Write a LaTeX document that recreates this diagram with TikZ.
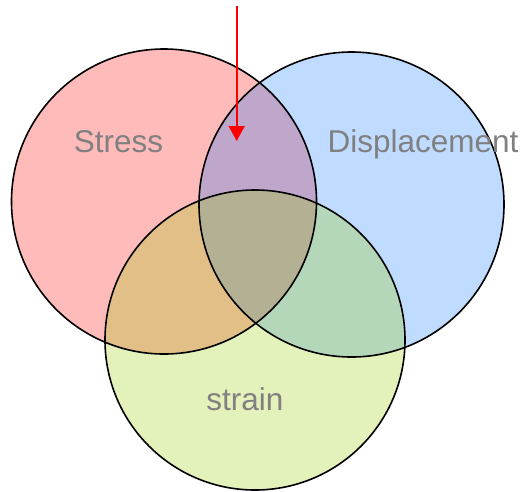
\documentclass[tikz,border=0pt]{standalone}
\usepackage{fontspec}
\setmainfont{Liberation Sans}
\usetikzlibrary{arrows.meta}
\definecolor{stressred}{RGB}{255,0,0}
\definecolor{dispblue}{RGB}{0,111,255}
\definecolor{straingreen}{RGB}{153,204,0}
\definecolor{labelgray}{RGB}{128,128,128}
\tikzset{
  setfill/.style={circle, inner sep=0pt, minimum size=#1},
  setline/.style={circle, inner sep=0pt, minimum size=#1, draw=black, line width=1.6pt},
  setlabel/.style={text=labelgray, font=\fontsize{31.5}{31.5}\selectfont, inner sep=0pt, anchor=base},
  pointer/.style={draw=red, line width=1.6pt, -{Triangle[width=16pt,length=15pt]}}
}
\begin{document}
\begin{tikzpicture}[x=1pt, y=-1pt]
  \useasboundingbox (0,0) rectangle (522,491);
  % translucent set fills
  \node[setfill=305pt, fill=stressred, fill opacity=0.27] (stressF) at (164,201.5) {};
  \node[setfill=305pt, fill=dispblue, fill opacity=0.25] (dispF) at (351.5,204.5) {};
  \node[setfill=300pt, fill=straingreen, fill opacity=0.27] (strainF) at (255,340) {};
  % outlines
  \node[setline=305pt] (stress) at (164,201.5) {};
  \node[setline=305pt] (disp) at (351.5,204.5) {};
  \node[setline=300pt] (strain) at (255,340) {};
  % labels
  \node[setlabel] (stressL) at (118.5,152) {Stress};
  \node[setlabel] (dispL) at (423,152) {Displacement};
  \node[setlabel] (strainL) at (245,410) {strain};
  % pointer into the stress/displacement overlap
  \coordinate (ptrStart) at (236.7,6);
  \coordinate (ptrEnd) at (236.7,141);
  \draw[pointer] (ptrStart) -- (ptrEnd);
\end{tikzpicture}
\end{document}
